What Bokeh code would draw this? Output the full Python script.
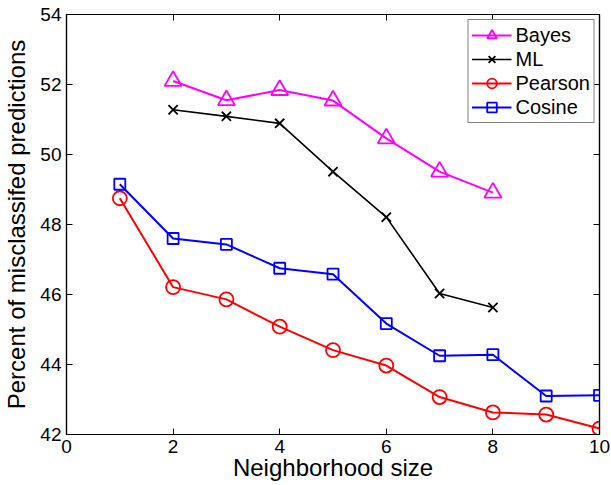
from bokeh.plotting import figure
from bokeh.models import Range1d, LinearAxis, FixedTicker, Legend, LegendItem, CustomJSTickFormatter
from bokeh.embed import file_html
from bokeh.resources import INLINE

# ---- data ----
x_bayes = [2, 3, 4, 5, 6, 7, 8]
bayes = [52.10, 51.55, 51.84, 51.54, 50.46, 49.51, 48.91]

x_ml = [2, 3, 4, 5, 6, 7, 8]
ml = [51.28, 51.09, 50.89, 49.51, 48.21, 46.03, 45.63]

x_all = [1, 2, 3, 4, 5, 6, 7, 8, 9, 10]
pearson = [48.75, 46.21, 45.86, 45.08, 44.41, 43.97, 43.07, 42.63, 42.57, 42.17]
cosine = [49.15, 47.60, 47.43, 46.75, 46.58, 45.17, 44.25, 44.28, 43.10, 43.12]

x_ticks = [0, 2, 4, 6, 8, 10]
y_ticks = [42, 44, 46, 48, 50, 52, 54]

FONT = "Liberation Sans"

p = figure(width=611, height=485, x_range=Range1d(0, 10), y_range=Range1d(42, 54),
           output_backend="svg", toolbar_location=None,
           min_border_left=66, min_border_right=12, min_border_top=14, min_border_bottom=51)

p.xgrid.visible = False
p.ygrid.visible = False
p.outline_line_color = "black"
p.outline_line_width = 1.2
p.background_fill_color = "white"
p.border_fill_color = "white"

def style_axis(ax, ticks, labels=True):
    ax.ticker = FixedTicker(ticks=ticks)
    ax.axis_line_color = "black"
    ax.axis_line_width = 1.2
    ax.major_tick_in = 6
    ax.major_tick_out = 0
    ax.major_tick_line_color = "black"
    ax.major_tick_line_width = 1
    ax.minor_tick_line_color = None
    if labels:
        ax.major_label_text_font = FONT
        ax.major_label_text_font_size = "19px"
        ax.major_label_text_color = "black"
        ax.major_label_standoff = 5
        ax.axis_label_text_font = FONT
        ax.axis_label_text_font_size = "24px"
        ax.axis_label_text_font_style = "normal"
        ax.axis_label_text_color = "black"
    else:
        ax.major_label_text_font_size = "0px"
        ax.major_label_standoff = 0
        ax.formatter = CustomJSTickFormatter(code="return ''")

xa = p.xaxis[0]
ya = p.yaxis[0]
style_axis(xa, x_ticks)
style_axis(ya, y_ticks)
xa.axis_label = "Neighborhood size"
ya.axis_label = "Percent of misclassifed predictions"
xa.axis_label_standoff = -2
ya.axis_label_standoff = 7

ra = LinearAxis()
style_axis(ra, y_ticks, labels=False)
p.add_layout(ra, "right")
ta = LinearAxis()
style_axis(ta, x_ticks, labels=False)
p.add_layout(ta, "above")

MAG = "#ff00ff"
l_b = p.line(x_bayes, bayes, line_color=MAG, line_width=2)
m_b = p.scatter(x_bayes, bayes, marker="triangle", size=17, line_color=MAG, line_width=1.8,
                fill_color=None)
l_m = p.line(x_ml, ml, line_color="black", line_width=1.6)
m_m = p.scatter(x_ml, ml, marker="x", size=13, line_color="black", line_width=1.8)
l_p = p.line(x_all, pearson, line_color="#ff0000", line_width=2)
m_p = p.scatter(x_all, pearson, marker="circle", size=14, line_color="#ff0000", line_width=1.8,
                fill_color=None)
l_c = p.line(x_all, cosine, line_color="#0000ff", line_width=2)
m_c = p.scatter(x_all, cosine, marker="square", size=11, line_color="#0000ff", line_width=1.8,
                fill_color=None)

legend = Legend(items=[
    LegendItem(label="Bayes", renderers=[l_b, m_b]),
    LegendItem(label="ML", renderers=[l_m, m_m]),
    LegendItem(label="Pearson", renderers=[l_p, m_p]),
    LegendItem(label="Cosine", renderers=[l_c, m_c]),
], location="top_right", margin=5, padding=3, spacing=0, glyph_width=40, glyph_height=24,
   label_height=24, label_standoff=4, label_text_font=FONT, label_text_font_size="20px",
   label_text_color="black", border_line_color="black", border_line_width=1,
   background_fill_color="white", background_fill_alpha=1)
p.add_layout(legend)

open("out.html", "w").write(file_html(p, INLINE))
